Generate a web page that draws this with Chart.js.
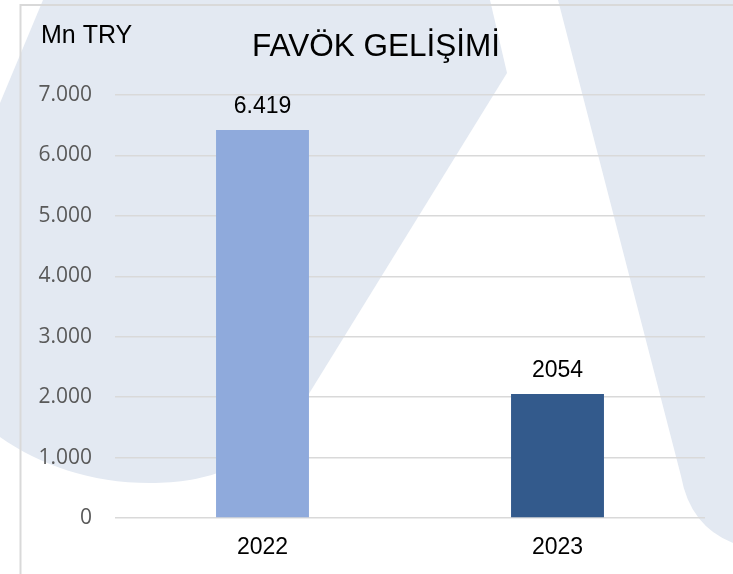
<!DOCTYPE html>
<html>
<head>
<meta charset="utf-8">
<script src="https://cdn.jsdelivr.net/npm/chart.js@4/dist/chart.umd.min.js"></script>
<style>
  body { margin: 0; background: #fff; }
  canvas { display: block; }
</style>
</head>
<body>
<canvas id="myChart" width="733" height="574"></canvas>
<script>
// dados do grafico
var anos = ['2022', '2023']
var favok = [6419, 2054]
var rotulosValor = ['6.419', '2054']
var coresBarra = ['#8FAADC', '#335A8C']
var rotulosY = ['0', '1.000', '2.000', '3.000', '4.000', '5.000', '6.000', '7.000']
var unidade = 'Mn TRY'
var titulo = 'FAVÖK GELİŞİMİ'

// fundo com as formas do logo + moldura
var fundoPlugin = {
  id: 'fundo',
  beforeDraw(chart) {
    let ctx = chart.ctx
    ctx.save()
    ctx.fillStyle = '#fff'
    ctx.fillRect(0, 0, chart.width, chart.height)
    ctx.fillStyle = '#E3E9F2'
    // forma esquerda
    ctx.beginPath()
    ctx.moveTo(43, 0)
    ctx.lineTo(490, 0)
    ctx.lineTo(507, 73)
    ctx.lineTo(302, 405)
    ctx.bezierCurveTo(262, 468, 205, 483, 150, 483)
    ctx.bezierCurveTo(90, 483, 40, 465, 0, 437)
    ctx.lineTo(0, 103)
    ctx.closePath()
    ctx.fill()
    // forma direita
    ctx.beginPath()
    ctx.moveTo(558, 0)
    ctx.lineTo(733, 0)
    ctx.lineTo(733, 543)
    ctx.quadraticCurveTo(690, 526, 681, 476)
    ctx.closePath()
    ctx.fill()
    // moldura
    ctx.strokeStyle = '#D9D9D9'
    ctx.lineWidth = 2
    ctx.beginPath()
    ctx.moveTo(20, 5)
    ctx.lineTo(733, 5)
    ctx.moveTo(20.5, 4)
    ctx.lineTo(20.5, 574)
    ctx.stroke()
    ctx.restore()
  }
}

// titulo, unidade e rotulos das barras
var textosPlugin = {
  id: 'textos',
  afterDatasetsDraw(chart) {
    let ctx = chart.ctx
    ctx.save()
    ctx.fillStyle = '#000'
    ctx.textBaseline = 'alphabetic'
    ctx.font = '25px "Liberation Sans", Arial, sans-serif'
    ctx.textAlign = 'left'
    ctx.fillText(unidade, 41, 43)
    ctx.font = '31.5px "Liberation Sans", Arial, sans-serif'
    ctx.textAlign = 'center'
    ctx.fillText(titulo, 376, 56)
    ctx.font = '23px "Liberation Sans", Arial, sans-serif'
    chart.getDatasetMeta(0).data.forEach((bar, i) => {
      ctx.fillText(rotulosValor[i], bar.x, bar.y - 17)
    })
    ctx.restore()
  }
}

var ctx = document.getElementById('myChart').getContext('2d')
var myChart = new Chart(ctx, {
  type: 'bar',
  data: {
    labels: anos,
    datasets: [{
      label: titulo,
      data: favok,
      backgroundColor: coresBarra,
      borderWidth: 0,
      barPercentage: 1,
      categoryPercentage: 0.315
    }]
  },
  options: {
    responsive: false,
    animation: false,
    devicePixelRatio: 1,
    layout: { padding: { top: 95, right: 28, bottom: 0, left: 0 } },
    plugins: {
      legend: { display: false },
      tooltip: { enabled: false }
    },
    scales: {
      x: {
        afterFit(scale) { scale.height = 56 },
        grid: { display: false },
        border: { display: false },
        ticks: {
          color: '#000',
          padding: 8,
          font: { family: '"Liberation Sans", Arial, sans-serif', size: 23 }
        }
      },
      y: {
        min: 0,
        max: 7000,
        afterFit(scale) { scale.width = 115 },
        grid: { color: '#D9D9D9', lineWidth: 1.5, drawTicks: false },
        border: { display: false },
        ticks: {
          stepSize: 1000,
          padding: 23,
          color: '#595959',
          font: { family: '"Open Sans", sans-serif', size: 21 },
          callback: (v, i) => rotulosY[i]
        }
      }
    }
  },
  plugins: [fundoPlugin, textosPlugin]
})
</script>
</body>
</html>
